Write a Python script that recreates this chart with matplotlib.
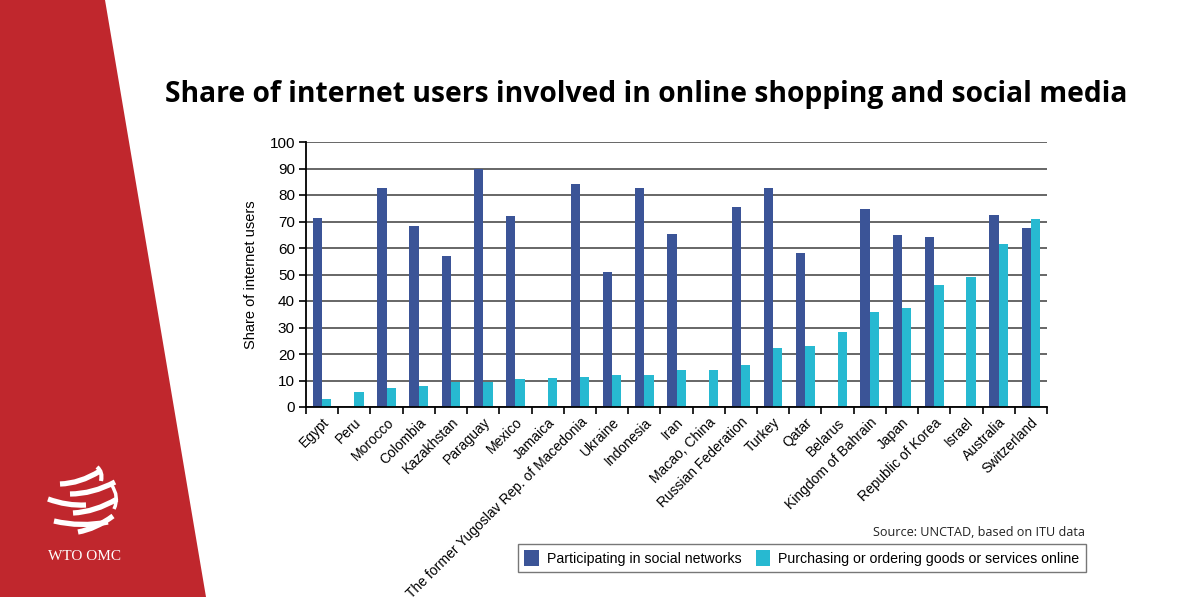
import matplotlib.pyplot as plt
import matplotlib.patches as mpatches
from matplotlib.path import Path
import numpy as np

# ----------------------------
# data
# ----------------------------
countries = ["Egypt", "Peru", "Morocco", "Colombia", "Kazakhstan", "Paraguay",
             "Mexico", "Jamaica", "The former Yugoslav Rep. of Macedonia",
             "Ukraine", "Indonesia", "Iran", "Macao, China", "Russian Federation",
             "Turkey", "Qatar", "Belarus", "Kingdom of Bahrain", "Japan",
             "Republic of Korea", "Israel", "Australia", "Switzerland"]

social = [71.5, np.nan, 82.5, 68.3, 57.1, 89.9, 72.1, np.nan, 84.1, 51.1, 82.5,
          65.2, np.nan, 75.3, 82.5, 58.0, np.nan, 74.7, 64.8, 64.3, np.nan,
          72.4, 67.5]

shopping = [3.0, 5.5, 7.2, 8.0, 9.3, 9.3, 10.6, 11.1, 11.3, 12.0, 12.0, 13.9,
            13.9, 15.8, 22.3, 23.0, 28.4, 35.8, 37.5, 45.9, 49.2, 61.4, 70.9]

dark_blue = "#3B5497"
cyan = "#27B9D1"
wto_red = "#C0272D"

# ----------------------------
# figure + background decoration
# ----------------------------
fig = plt.figure(figsize=(12, 6), dpi=100)
fig.patch.set_facecolor("white")

bg = fig.add_axes([0, 0, 1, 1])
bg.set_xlim(0, 1200)
bg.set_ylim(600, 0)
bg.axis("off")

bg.add_patch(mpatches.Polygon([(0, 0), (105, 0), (206, 597), (0, 597)],
                              closed=True, color=wto_red, lw=0))

# rough WTO globe: curved white stripes
stripes = [((60, 484), (100, 471), 6),
           ((70, 494), (115, 482), 6),
           ((48, 499), (86, 505), 4),
           ((73, 513), (117, 499), 6),
           ((54, 521), (108, 522), 6),
           ((78, 532), (113, 516), 5)]
for (x0, y0), (x1, y1), sag in stripes:
    mx, my = (x0 + x1) / 2, (y0 + y1) / 2 + sag
    p = Path([(x0, y0), (mx, my), (x1, y1)], [Path.MOVETO, Path.CURVE3, Path.CURVE3])
    bg.add_patch(mpatches.PathPatch(p, fill=False, edgecolor="white", lw=3.8,
                                    capstyle="butt"))
p = Path([(97, 467), (103, 472), (101, 481)], [Path.MOVETO, Path.CURVE3, Path.CURVE3])
bg.add_patch(mpatches.PathPatch(p, fill=False, edgecolor="white", lw=3.0))
p = Path([(111, 484), (120, 497), (114, 509)], [Path.MOVETO, Path.CURVE3, Path.CURVE3])
bg.add_patch(mpatches.PathPatch(p, fill=False, edgecolor="white", lw=2.5))

bg.text(85, 557, "WTO OMC", color="white", fontsize=11,
        family="Liberation Serif", ha="center", va="center")

bg.text(646, 102, "Share of internet users involved in online shopping and social media",
        fontsize=20.3, fontweight="bold", family="Open Sans",
        ha="center", va="baseline", color="black")

bg.text(1085, 533, "Source: UNCTAD, based on ITU data", fontsize=9.1,
        family="Open Sans", ha="right", va="center", color="#222222")

# ----------------------------
# bar chart
# ----------------------------
ax = fig.add_axes([306 / 1200, 193 / 600, 741 / 1200, 265 / 600])

x = np.arange(len(countries))
w = 0.29
ax.bar(x - w / 2, social, w, color=dark_blue, label="Participating in social networks")
ax.bar(x + w / 2, shopping, w, color=cyan,
       label="Purchasing or ordering goods or services online")

ax.set_xlim(-0.5, len(countries) - 0.5)
ax.set_ylim(0, 100)
ax.set_yticks(np.arange(0, 101, 10))
ax.yaxis.grid(True, color="#5a5a5a", lw=1.3)
ax.set_axisbelow(True)

for s in ["top", "right"]:
    ax.spines[s].set_visible(False)
ax.spines["left"].set_linewidth(1.3)
ax.spines["bottom"].set_linewidth(1.3)

ax.set_xticks(x)
ax.set_xticklabels(countries, rotation=45, ha="right", rotation_mode="anchor",
                   family="Liberation Sans", fontsize=10)
ax.tick_params(axis="x", length=0, pad=6)
ax.set_xticks(np.arange(-0.5, len(countries), 1), minor=True)
ax.tick_params(axis="x", which="minor", length=5, width=1.2, direction="out")
ax.tick_params(axis="y", length=5, width=1.2, direction="out", pad=3)
for lab in ax.get_yticklabels():
    lab.set_family("Liberation Sans")
    lab.set_fontsize(11)

ax.set_ylabel("Share of internet users", family="Liberation Sans", fontsize=10.5,
              labelpad=8)

leg = fig.legend(loc="center", bbox_to_anchor=(802 / 1200, 1 - 558 / 600), ncol=2,
                 frameon=True, fancybox=False, edgecolor="#555555",
                 prop={"family": "Liberation Sans", "size": 10.2},
                 handlelength=1.0, handleheight=1.3, handletextpad=0.6,
                 columnspacing=1.0, borderpad=0.45)
leg.get_frame().set_linewidth(1.0)

fig.savefig("out.png", dpi=100, facecolor="white")
